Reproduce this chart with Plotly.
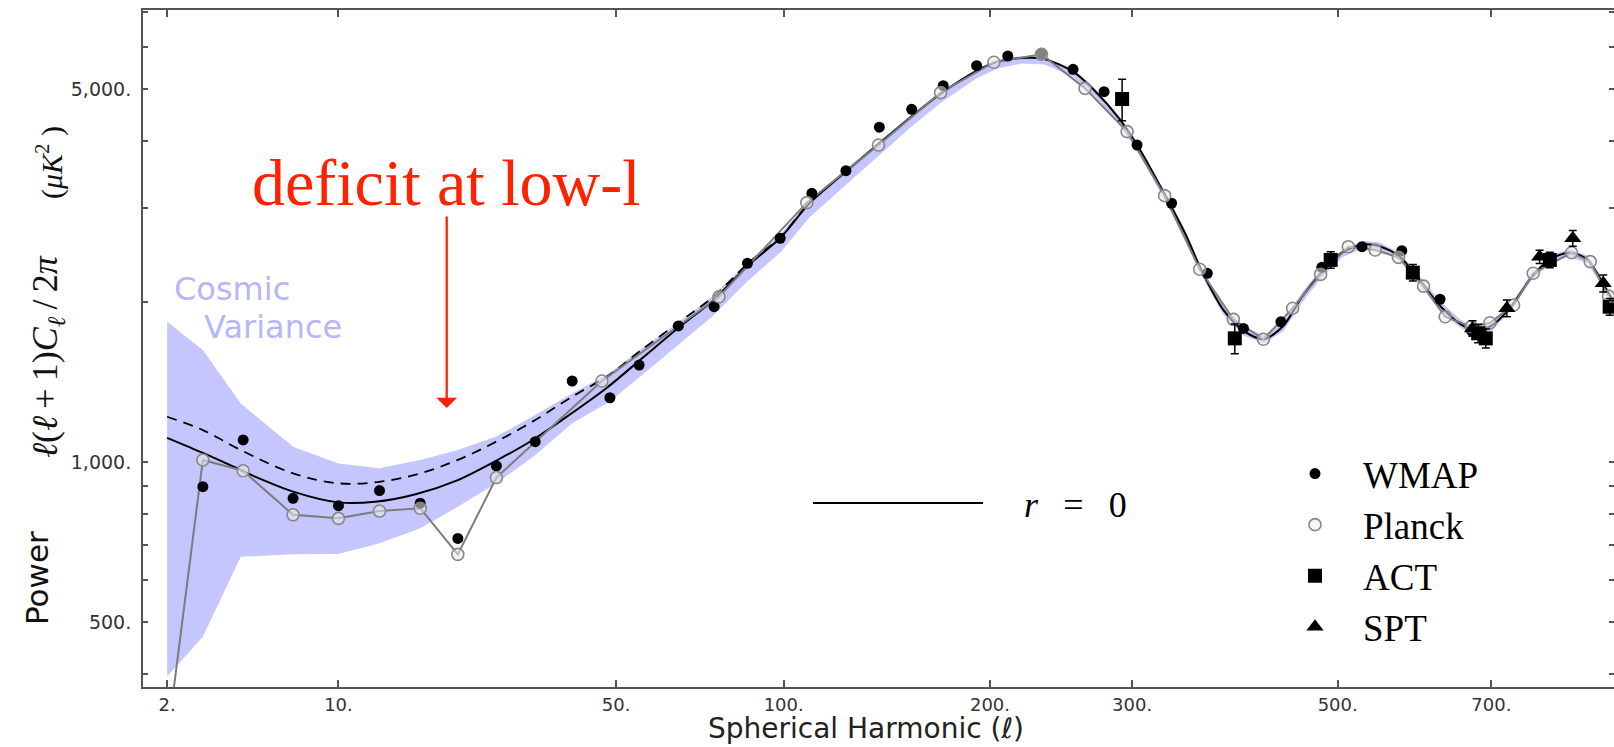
import numpy as np
import plotly.graph_objects as go

# ---------------- data ----------------
# x axis of the reference is linear in ell**0.3
P = 0.3

theory_ell = [2, 3, 4, 5, 7, 10, 13, 17, 22, 27, 33, 40, 48, 56, 66, 76, 87, 99, 110, 125,
              140, 156, 172, 192, 205, 220, 235, 255, 270, 290, 305, 327, 345, 360, 380,
              400, 420, 440, 460, 480, 505, 530, 550, 575, 600, 630, 660, 680, 700, 730,
              760, 790, 820, 850, 880, 900]
theory_D = [1110, 1040, 985, 940, 880, 840, 842, 870, 925, 1000, 1095, 1225, 1380, 1560, 1790,
            2010, 2330, 2640, 3060, 3500, 3950, 4440, 4920, 5420, 5640, 5730, 5700, 5400, 5000,
            4400, 3900, 3180, 2680, 2280, 1930, 1760, 1700, 1800, 2040, 2250, 2470, 2560, 2540,
            2430, 2200, 1950, 1800, 1770, 1800, 1960, 2220, 2400, 2470, 2400, 2130, 1950]

dashed_ell = [2, 3, 4.4, 7, 10, 13.4, 17.5, 22, 27.4, 33.7, 40.6, 48.6, 55.5, 66, 76, 87, 99, 110, 125]
dashed_D = [1216, 1148, 1053, 952, 912, 918, 952, 1009, 1092, 1199, 1326, 1460, 1610, 1830, 2040,
            2350, 2650, 3065, 3500]

band_ell = [2, 3, 4.4, 7, 10, 13.4, 17.5, 22, 27.4, 33.7, 40.6, 48.6, 55.5, 66, 76, 87, 99, 110,
            125, 140, 156, 172, 192, 205, 220, 235, 255, 270, 290, 305, 327, 345, 360, 380, 400,
            420, 440, 460, 480, 505, 530, 550, 575, 600, 630, 660, 680, 700, 730, 760, 790, 820,
            850, 880, 900]
band_lo = [396, 470, 664, 671, 672, 704, 751, 824, 912, 1030, 1182, 1300, 1440, 1660, 1880, 2180,
           2480, 2880, 3310, 3760, 4250, 4730, 5250, 5480, 5590, 5570, 5280, 4880, 4290, 3800,
           3100, 2610, 2230, 1890, 1725, 1670, 1760, 1990, 2200, 2420, 2520, 2500, 2390, 2160,
           1900, 1770, 1740, 1760, 1930, 2190, 2360, 2430, 2360, 2100, 1920]
band_hi = [1833, 1623, 1288, 1068, 994, 973, 1009, 1053, 1116, 1225, 1345, 1470, 1620, 1830, 2050,
           2370, 2680, 3100, 3540, 3990, 4480, 4960, 5460, 5680, 5780, 5760, 5460, 5060, 4460,
           3950, 3220, 2720, 2310, 1960, 1790, 1730, 1830, 2080, 2290, 2500, 2600, 2580, 2470,
           2240, 1990, 1830, 1800, 1830, 1990, 2250, 2440, 2510, 2440, 2160, 1980]

wmap_ell = [3.0, 4.5, 7, 10, 13.4, 17.5, 22, 27.4, 33.7, 40.6, 48.6, 55.5, 65.8, 76.3, 87.1, 98.7,
            110.9, 125.2, 140.4, 156.3, 173, 192, 211, 233, 255, 278, 304, 333, 365, 399.5,
            437.6, 482, 528.6, 577.8, 628, 672]
wmap_D = [899, 1100, 855, 828, 884, 837, 719, 983, 1092, 1419, 1320, 1520, 1800, 1956, 2359, 2629,
          3192, 3520, 4247, 4588, 5082, 5540, 5777, 5845, 5455, 4952, 3933, 3058, 2259, 1781,
          1833, 2319, 2535, 2491, 2020, 1760]

planck_ell = [2, 3, 4.5, 7, 10, 13.4, 17.5, 22, 27.4, 46.8, 77.8, 108.9, 140, 171.6, 202.4, 233,
              263.7, 296, 327, 358, 389.6, 419.5, 450, 480.6, 512.4, 544.6, 573.5, 606, 635, 671,
              698, 733, 763, 824, 855, 886]
planck_D = [300, 1009, 963, 796, 784, 809, 819, 671, 935, 1419, 2042, 3066, 3933, 4931, 5623, 5821,
            5023, 4167, 3160, 2299, 1852, 1699, 1943, 2249, 2535, 2499, 2421, 2138, 1873, 1794,
            1825, 1970, 2260, 2470, 2376, 2048]

act_ell = [292, 391, 492, 592, 681, 692, 789, 888]
act_D = [4797, 1706, 2394, 2266, 1744, 1706, 2394, 1956]
act_err = [430, 110, 85, 80, 70, 70, 80, 70]

spt_ell = [673, 723, 773, 826, 877]
spt_D = [1781, 1943, 2427, 2629, 2164]
spt_err = [60, 70, 70, 90, 80]

xtick_vals = [2, 10, 50, 100, 200, 300, 500, 700]
xtick_text = ["2.", "10.", "50.", "100.", "200.", "300.", "500.", "700."]
ytick_vals = [400, 500, 600, 700, 800, 900, 1000, 2000, 3000, 4000, 5000, 6000, 7000]
ytick_text = ["", "500.", "", "", "", "", "1,000.", "", "", "", "5,000.", "", ""]

# ---------------- layout geometry ----------------
W, H = 1614, 747
ML, MR, MT, MB = 143, 0, 10, 60
PW, PH = W - ML - MR, H - MT - MB


def sx(ell):
    return np.asarray(ell, dtype=float) ** P


def px_x(px):
    return (px - ML) / PW


def px_y(py):
    return (H - MB - py) / PH


BAND = "rgb(198,198,255)"
fig = go.Figure()

fig.add_trace(go.Scatter(x=sx(band_ell), y=band_lo, mode="lines", line=dict(width=0, color=BAND),
                         showlegend=False, hoverinfo="skip"))
fig.add_trace(go.Scatter(x=sx(band_ell), y=band_hi, mode="lines", line=dict(width=0, color=BAND),
                         fill="tonexty", fillcolor=BAND, showlegend=False, hoverinfo="skip"))
fig.add_trace(go.Scatter(x=sx(dashed_ell), y=dashed_D, mode="lines",
                         line=dict(color="black", width=1.8, dash="10px,7px", shape="spline"),
                         showlegend=False))
fig.add_trace(go.Scatter(x=sx(theory_ell), y=theory_D, mode="lines",
                         name="\u2003<i>r</i>\u2002\u2009=\u2002\u20090",
                         line=dict(color="black", width=2, shape="spline", smoothing=0.8),
                         legend="legend2"))
fig.add_trace(go.Scatter(x=sx(planck_ell), y=planck_D, mode="lines",
                         line=dict(color="#7c7c7c", width=2), showlegend=False))
fig.add_trace(go.Scatter(x=sx(wmap_ell), y=wmap_D, mode="markers", name="WMAP",
                         marker=dict(symbol="circle", size=11, color="black")))
fig.add_trace(go.Scatter(x=sx(planck_ell), y=planck_D, mode="markers", name="Planck",
                         marker=dict(symbol="circle", size=12, color="rgba(235,235,235,0.55)",
                                     line=dict(color="#888888", width=1.6))))
fig.add_trace(go.Scatter(x=sx(act_ell), y=act_D, mode="markers", name="ACT",
                         marker=dict(symbol="square", size=14, color="black"),
                         error_y=dict(type="data", array=act_err, color="black", thickness=1.5, width=4)))
fig.add_trace(go.Scatter(x=sx(spt_ell), y=spt_D, mode="markers", name="SPT",
                         marker=dict(symbol="triangle-up", size=15, color="black"),
                         error_y=dict(type="data", array=spt_err, color="black", thickness=1.5, width=4)))

AX = "#555555"
fig.update_xaxes(range=[1.1235, 7.6845], tickmode="array", tickvals=sx(xtick_vals), ticktext=xtick_text,
                 ticks="inside", ticklen=7, tickwidth=1.5, tickcolor=AX, showline=True, linecolor=AX,
                 linewidth=2, mirror="ticks", showgrid=False, zeroline=False,
                 tickfont=dict(family="DejaVu Sans", size=18, color="#333333"))
fig.update_yaxes(type="log", range=[2.5779, 3.848], tickmode="array", tickvals=ytick_vals,
                 ticktext=ytick_text, ticks="inside", ticklen=5, tickwidth=1.5, tickcolor=AX,
                 showline=True, linecolor=AX, linewidth=2, mirror="ticks", showgrid=False,
                 zeroline=False, ticklabelstandoff=6,
                 tickfont=dict(family="DejaVu Sans", size=19, color="#333333"))

annotations = [
    dict(text="Spherical Harmonic (<i>ℓ</i>)", x=px_x(866), y=px_y(729), xanchor="center",
         yanchor="middle", showarrow=False,
         font=dict(family="DejaVu Sans", size=28, color="#222222")),
    dict(text="deficit at low-l", x=px_x(250), y=px_y(182), xanchor="left", yanchor="middle",
         showarrow=False, font=dict(family="Liberation Serif", size=66, color="#ff2200")),
    dict(text="", x=px_x(446.7), y=px_y(408), ax=0, ay=-193, showarrow=True, arrowhead=1,
         arrowsize=1.5, arrowwidth=2.3, arrowcolor="#ff2200"),
    dict(text="Cosmic", x=px_x(172), y=px_y(289), xanchor="left", yanchor="middle", showarrow=False,
         font=dict(family="DejaVu Sans", size=32, color="rgb(182,182,250)")),
    dict(text="Variance", x=px_x(202), y=px_y(327), xanchor="left", yanchor="middle", showarrow=False,
         font=dict(family="DejaVu Sans", size=32, color="rgb(182,182,250)")),
    dict(text="Power", x=px_x(37), y=px_y(578), textangle=-90, xanchor="center", yanchor="middle",
         showarrow=False, font=dict(family="DejaVu Sans", size=31, color="#111111")),
    dict(text="<i>ℓ</i>(<i>ℓ</i>\u2009+\u20091)<i>C</i><sub><i>ℓ</i></sub>\u2009/\u20092<i>π</i>",
         x=px_x(47), y=px_y(357), textangle=-90, xanchor="center", yanchor="middle",
         showarrow=False, font=dict(family="Liberation Serif", size=36, color="#111111")),
    dict(text="(<i>μK</i><sup>2</sup> )", x=px_x(49), y=px_y(163), textangle=-90,
         xanchor="center", yanchor="middle", showarrow=False,
         font=dict(family="Liberation Serif", size=30, color="#111111")),
]
for a in annotations:
    a.setdefault("xref", "paper")
    a.setdefault("yref", "paper")

fig.update_layout(
    width=W, height=H, margin=dict(l=ML, r=MR, t=MT, b=MB, pad=0, autoexpand=False),
    paper_bgcolor="white", plot_bgcolor="white",
    annotations=annotations,
    legend=dict(x=px_x(1267), y=px_y(443), xanchor="left", yanchor="top", itemwidth=86,
                traceorder="normal", bgcolor="rgba(0,0,0,0)", borderwidth=0, tracegroupgap=0,
                font=dict(family="Liberation Serif", size=37, color="black")),
    legend2=dict(x=px_x(808), y=px_y(473), xanchor="left", yanchor="top", itemwidth=170,
                 bgcolor="rgba(0,0,0,0)", borderwidth=0,
                 font=dict(family="Liberation Serif", size=36, color="black")),
    showlegend=True,
)

fig.write_html("out.html")
